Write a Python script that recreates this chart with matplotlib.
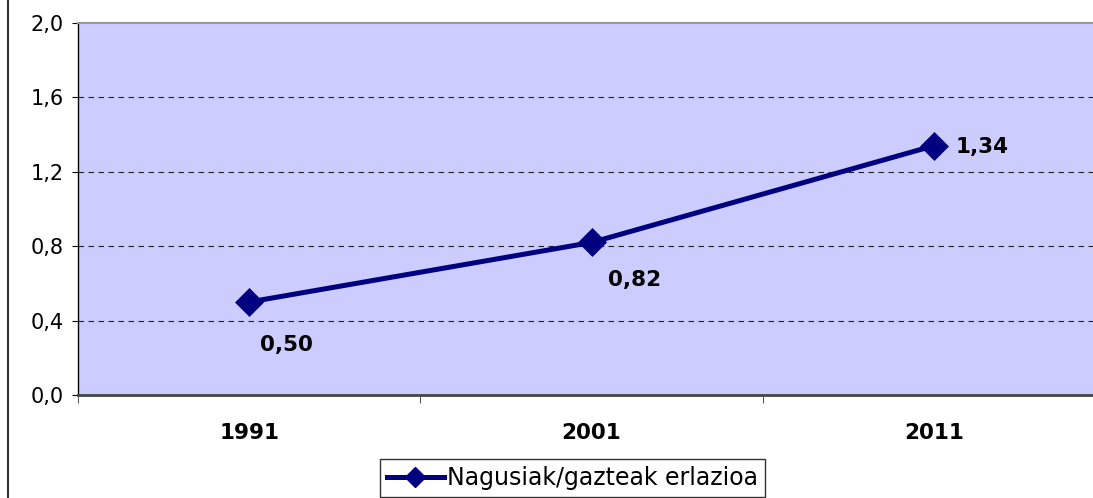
import matplotlib.pyplot as plt
import matplotlib.lines as mlines

# === DATA ===
years = ['1991', '2001', '2011']
ratio = [0.50, 0.82, 1.34]
ratio_labels = ['0,50', '0,82', '1,34']
y_ticks = [0.0, 0.4, 0.8, 1.2, 1.6, 2.0]
y_tick_labels = ['0,0', '0,4', '0,8', '1,2', '1,6', '2,0']
series_name = 'Nagusiak/gazteak erlazioa'

navy = '#000080'

fig = plt.figure(figsize=(10.93, 4.98), dpi=100)
ax = fig.add_axes([78 / 1093, 1 - 395 / 498, (1105 - 78) / 1093, (395 - 23) / 498])
ax.set_facecolor('#CCCCFF')

x = list(range(len(years)))
ax.plot(x, ratio, color=navy, linewidth=3.6, marker='D', markersize=14,
        markerfacecolor=navy, markeredgecolor=navy, markeredgewidth=0.5, zorder=3)

# data labels (offsets in points)
offsets = [(27, -31), (31, -27), (35, -1)]
for xi, yi, lab, off in zip(x, ratio, ratio_labels, offsets):
    ax.annotate(lab, (xi, yi), xytext=off, textcoords='offset points',
                ha='center', va='center', fontsize=15.5, fontweight='bold',
                color='black')

ax.set_xlim(-0.5, 2.5)
ax.set_ylim(0, 2.0)
ax.set_yticks(y_ticks)
ax.set_yticklabels(y_tick_labels, fontsize=15)
ax.set_xticks(x)
ax.set_xticklabels(years, fontsize=15.5, fontweight='bold')
ax.tick_params(axis='x', length=0, pad=20)
ax.set_xticks([-0.5, 0.5, 1.5, 2.5], minor=True)
ax.tick_params(axis='x', which='minor', length=6, direction='out', color='#333333')
ax.tick_params(axis='y', length=4.3, direction='out', color='black', pad=6)

for gy in y_ticks[1:-1]:
    ax.axhline(gy, color='#222222', linestyle=(0, (5, 4)), linewidth=0.8, zorder=1)

ax.spines['top'].set_color('#999999')
ax.spines['top'].set_linewidth(1.5)
ax.spines['right'].set_visible(False)
ax.spines['left'].set_color('black')
ax.spines['left'].set_linewidth(1)
ax.spines['bottom'].set_color('#444444')
ax.spines['bottom'].set_linewidth(2)

# left border of the chart area
fig.add_artist(mlines.Line2D([8 / 1093, 8 / 1093], [0, 1], color='#333333',
                             linewidth=1.5))

handle = mlines.Line2D([], [], color=navy, linewidth=3.6, marker='D',
                       markersize=10, markerfacecolor=navy)
leg = fig.legend([handle], [series_name], loc='upper left',
                 bbox_to_anchor=(380 / 1093, 1 - 459 / 498), fontsize=17,
                 frameon=True, fancybox=False, edgecolor='black',
                 borderpad=0.3, handlelength=2.4, handletextpad=0.15,
                 borderaxespad=0)
leg.get_frame().set_linewidth(1)

fig.savefig('out.png', dpi=100)
